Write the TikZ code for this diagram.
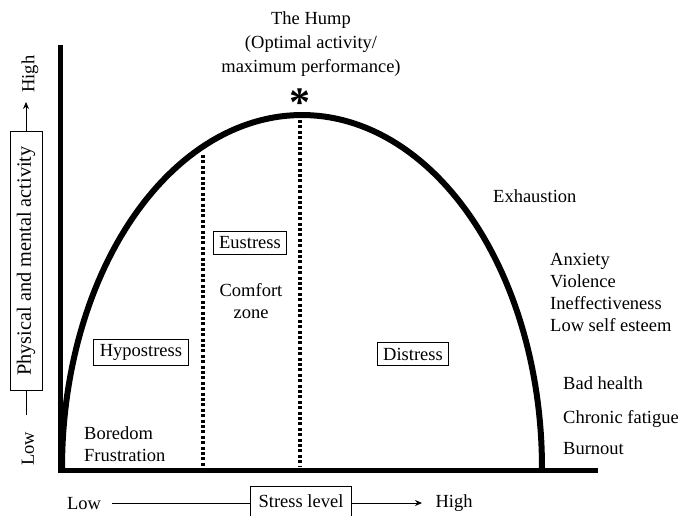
\documentclass[tikz,border=0pt]{standalone}
\usepackage{fontspec}
\setmainfont{Liberation Serif}
\usetikzlibrary{arrows.meta, positioning}

\begin{document}
\begin{tikzpicture}[x=1pt, y=-1pt,
  txt/.style={font=\fontsize{18.5}{22}\selectfont, inner sep=0pt},
  lbox/.style={txt, draw, line width=0.8pt, inner xsep=6pt, inner ysep=5pt},
  axis/.style={line width=5pt},
  zone/.style={line width=3.4pt, dash pattern=on 3pt off 2.4pt},
  thin arrow/.style={line width=0.8pt, -{Stealth[length=7pt, width=6pt]}}]
  \useasboundingbox (0,0) rectangle (683,515);

  % axes
  \draw[axis] (60,45) -- (60,470.5) -- (598,470.5);

  % the hump
  \draw[line width=6pt] plot[domain=180:0, samples=120]
    ({302+240*cos(\x)}, {468-353*sin(\x)});

  % zone borders
  \draw[zone] (203,155) -- (203,467);
  \draw[zone] (300,120) -- (300,467);
  \node[font=\fontsize{42}{42}\bfseries, inner sep=0pt] (star) at (300,103) {*};

  % hump label
  \node[txt, align=center, font=\fontsize{18.5}{24}\selectfont] (hump) at (311,44) {The Hump\\(Optimal activity/\\maximum performance)};

  % zones
  \node[lbox] (eustress) at (250,243) {Eustress};
  \node[txt, align=center] (comfort) at (251,301) {Comfort\\zone};
  \node[lbox] (hypo) at (141,352) {Hypostress};
  \node[lbox] (distress) at (413,354) {Distress};
  \node[txt, align=left, anchor=west] (boredom) at (84,444) {Boredom\\Frustration};

  % right hand side
  \node[txt, anchor=west] (exhaust) at (493,196) {Exhaustion};
  \node[txt, align=left, anchor=west] (anxiety) at (550,292) {Anxiety\\Violence\\Ineffectiveness\\Low self esteem};
  \node[txt, anchor=west] (health) at (563,383) {Bad health};
  \node[txt, anchor=west] (fatigue) at (563,419) {Chronic fatigue};
  \node[txt, anchor=west] (burnout) at (563,449) {Burnout};

  % x label
  \node[txt] (xlow) at (84,504) {Low};
  \node[lbox, minimum height=30pt, inner xsep=8pt] (stress) at (301,501) {Stress level};
  \node[txt] (xhigh) at (454,503) {High};
  \coordinate (xstart) at (112,503);
  \coordinate (xend) at (422,503);
  \draw[line width=0.8pt] (xstart) -- (stress.west |- xstart);
  \draw[thin arrow] (stress.east |- xend) -- (xend);

  % y label
  \node[lbox, rotate=90, minimum height=32pt, inner xsep=15pt,
        font=\fontsize{20.3}{24}\selectfont] (activity) at (26,261) {Physical and mental activity};
  \node[txt, rotate=90] (ylow) at (28,449) {Low};
  \node[txt, rotate=90] (yhigh) at (30,74) {High};
  \coordinate (ybot) at (26,415);
  \coordinate (ytop) at (26,102);
  \draw[line width=0.8pt] (activity.west) -- (ybot);
  \draw[thin arrow] (activity.east) -- (ytop);
\end{tikzpicture}
\end{document}
